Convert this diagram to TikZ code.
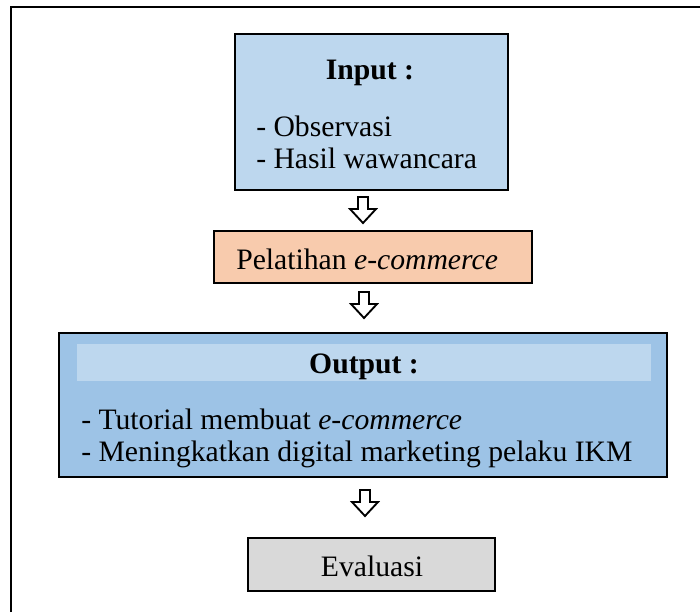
\documentclass[tikz,border=0pt]{standalone}
\usepackage{fontspec}
\setmainfont{Liberation Serif}
\usetikzlibrary{fit}
\definecolor{inblue}{HTML}{BDD7EE}
\definecolor{outblue}{HTML}{9DC3E6}
\definecolor{peach}{HTML}{F8CBAD}
\definecolor{lgray}{HTML}{D9D9D9}
\begin{document}
\begin{tikzpicture}[x=0.75pt,y=-0.75pt,
  box/.style={draw=black, line width=1.6pt, inner sep=0pt},
  txt/.style={inner sep=0pt, font=\fontsize{22.25}{24}\selectfont},
  btxt/.style={inner sep=0pt, font=\fontsize{22.25}{24}\selectfont\bfseries},
  hollow/.style={draw=black, fill=white, line width=1.4pt, line join=miter}]
\useasboundingbox (0,0) rectangle (700,612);
\draw[line width=1.6pt] (11,612) -- (11,7) -- (700,7);
% boxes
\node[box, fill=inblue, fit={(235,34)(508,190)}] (in) {};
\node[box, fill=peach, fit={(214,231)(532,283)}] (pel) {};
\node[box, fill=outblue, fit={(59,333)(667,477)}] (out) {};
\node[inner sep=0pt, fill=inblue, fit={(77,344)(651,381)}] (band) {};
\node[box, fill=lgray, fit={(248,538)(495,591)}] (ev) {};
% texts
\node[btxt, anchor=base] (tin) at (370,79) {Input :};
\node[txt, anchor=base west] (t1) at (256,136) {- Observasi};
\node[txt, anchor=base west] (t2) at (256,168) {- Hasil wawancara};
\node[txt, anchor=base west] (tpel) at (236,269) {Pelatihan \textit{e-commerce}};
\node[btxt, anchor=base] (tout) at (364,373) {Output :};
\node[txt, anchor=base west] (t3) at (81,429) {- Tutorial membuat \textit{e-commerce}};
\node[txt, anchor=base west] (t4) at (81,461) {- Meningkatkan digital marketing pelaku IKM};
\node[txt, anchor=base] (tev) at (372,576) {Evaluasi};
% hollow arrows
\coordinate (a1) at (363,197);
\coordinate (a2) at (364,292);
\coordinate (a3) at (365,490);
\foreach \a in {a1,a2,a3}{
  \draw[hollow] (\a) ++(-5,0) -- ++(10,0) -- ++(0,12) -- ++(8,0) -- ++(-13,14) -- ++(-13,-14) -- ++(8,0) -- cycle;
}
\end{tikzpicture}
\end{document}
